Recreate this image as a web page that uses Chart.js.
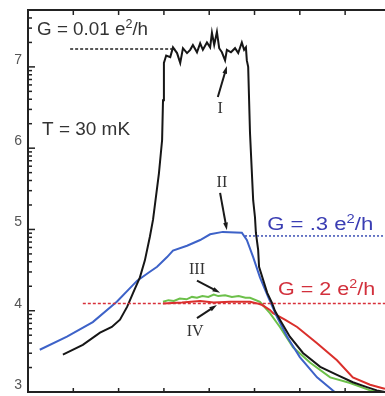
<!DOCTYPE html>
<html>
<head>
<meta charset="utf-8">
<script src="https://cdn.jsdelivr.net/npm/chart.js@4.4.1/dist/chart.umd.min.js"></script>
<style>
  html, body { margin: 0; padding: 0; background: #fff; overflow: hidden; }
</style>
</head>
<body>
<canvas id="gateSweep" width="385" height="396"></canvas>
<script>
// y axis: log of resistance, labelled by exponent
const yTicks = [3, 4, 5, 6, 7];
const xTicks = [1, 2, 3, 4, 5, 6, 7];
const minorDigits = [2, 3, 4, 5, 6, 7, 8, 9];

// curve I (black) - G = 0.01 e2/h
const blackX = [0.77, 1.21, 1.59, 1.85, 2.03, 2.19, 2.32, 2.47, 2.58, 2.69, 2.76, 2.89, 2.96, 2.98, 3.00, 3.05,
  3.14, 3.20, 3.29, 3.36, 3.42, 3.51, 3.58, 3.64, 3.73, 3.80, 3.86, 3.95, 4.02, 4.06, 4.11, 4.17, 4.22,
  4.28, 4.35, 4.39, 4.48, 4.57, 4.64, 4.72, 4.77, 4.81, 4.83, 4.86, 4.90, 4.97, 5.01, 5.03, 5.08, 5.10,
  5.28, 5.39, 5.45, 5.56, 5.78, 6.07, 6.45, 6.82, 7.17, 7.48, 7.70, 7.88];
const blackY = [3.46, 3.58, 3.73, 3.80, 3.89, 4.05, 4.22, 4.41, 4.62, 4.91, 5.12, 5.69, 6.10, 6.59, 7.05, 7.14,
  7.12, 7.24, 7.17, 7.05, 7.23, 7.17, 7.21, 7.27, 7.18, 7.29, 7.21, 7.30, 7.24, 7.42, 7.27, 7.43, 7.23,
  7.18, 7.08, 7.21, 7.18, 7.23, 7.17, 7.30, 7.21, 7.24, 7.08, 7.00, 6.19, 5.36, 5.15, 4.96, 4.75, 4.54,
  4.22, 4.09, 4.00, 3.89, 3.68, 3.48, 3.31, 3.21, 3.12, 3.06, 3.02, 3.00];

// curve II (blue) - G = .3 e2/h
const blueX = [0.26, 0.86, 1.43, 1.96, 2.41, 2.69, 2.85, 3.07, 3.20, 3.51, 3.80, 4.02, 4.30, 4.72, 4.83,
  4.97, 5.12, 5.30, 5.50, 5.72, 6.00, 6.38, 6.77];
const blueY = [3.52, 3.68, 3.86, 4.11, 4.37, 4.48, 4.54, 4.66, 4.74, 4.80, 4.87, 4.94, 4.97, 4.96, 4.87,
  4.66, 4.41, 4.17, 3.92, 3.68, 3.43, 3.18, 3.00];

// curve IV (red) - G = 2 e2/h
const redX = [2.98, 3.40, 3.80, 4.10, 4.46, 4.90, 5.06, 5.17, 5.34, 5.41, 5.67, 5.94, 6.38, 6.82, 7.17,
  7.55, 7.81, 7.88];
const redY = [4.09, 4.10, 4.12, 4.10, 4.11, 4.11, 4.09, 4.07, 4.01, 3.97, 3.89, 3.80, 3.60, 3.39, 3.18,
  3.09, 3.05, 3.04];

// curve III (green)
const greenX = [2.98, 3.10, 3.22, 3.35, 3.50, 3.62, 3.73, 3.85, 3.98, 4.10, 4.20, 4.35, 4.50, 4.65, 4.80,
  4.90, 5.12, 5.34, 5.56, 5.85, 6.23, 6.67, 7.11, 7.55, 7.81];
const greenY = [4.11, 4.13, 4.12, 4.15, 4.14, 4.17, 4.16, 4.18, 4.17, 4.20, 4.18, 4.19, 4.17, 4.18, 4.16,
  4.16, 4.11, 3.97, 3.80, 3.55, 3.36, 3.18, 3.11, 3.02, 3.00];

// dotted reference levels
const levelBlackX = [0.93, 3.25];
const levelBlackY = [7.22, 7.22];
const levelBlueX = [4.79, 7.88];
const levelBlueY = [4.92, 4.92];
const levelRedX = [1.21, 7.88];
const levelRedY = [4.09, 4.09];

function pts(xs, ys) {
  return xs.map((x, i) => ({ x: x, y: ys[i] }));
}

const labelFont = '"Liberation Sans", Arial, sans-serif';
const romanFont = '"Liberation Serif", "Times New Roman", serif';

// text pieces placed in data coordinates (left, baseline)
const textLabels = [
  { x: 0.20, y: 7.39, color: '#333', size: 18, width: 111, parts: [{ t: 'G = 0.01 e' }, { t: '2', sup: true }, { t: '/h' }] },
  { x: 0.31, y: 6.16, color: '#333', size: 19, width: 88, parts: [{ t: 'T = 30 mK' }] },
  { x: 5.28, y: 4.99, color: '#3a3db3', size: 18, width: 106, parts: [{ t: 'G = .3 e' }, { t: '2', sup: true }, { t: '/h' }] },
  { x: 5.52, y: 4.19, color: '#d2303c', size: 18, width: 97, parts: [{ t: 'G = 2 e' }, { t: '2', sup: true }, { t: '/h' }] }
];

const romanLabels = [
  { t: 'I', x: 4.24, y: 6.49 },
  { t: 'II', x: 4.28, y: 5.58 },
  { t: 'III', x: 3.73, y: 4.50 },
  { t: 'IV', x: 3.69, y: 3.74 }
];

const arrows = [
  { x0: 4.19, y0: 6.63, x1: 4.39, y1: 7.01 },
  { x0: 4.24, y0: 5.45, x1: 4.39, y1: 4.99 },
  { x0: 3.73, y0: 4.37, x1: 4.24, y1: 4.22 },
  { x0: 3.73, y0: 3.91, x1: 4.17, y1: 4.07 }
];

const annotate = {
  id: 'annotate',
  afterDatasetsDraw(chart) {
    const { ctx, scales: { x, y } } = chart;
    ctx.save();
    // labels with superscripts
    textLabels.forEach(lab => {
      let natural = 0;
      lab.parts.forEach(p => {
        ctx.font = (p.sup ? Math.round(lab.size * 0.68) : lab.size) + 'px ' + labelFont;
        natural += ctx.measureText(p.t).width;
      });
      ctx.save();
      ctx.translate(x.getPixelForValue(lab.x), y.getPixelForValue(lab.y));
      ctx.scale(lab.width / natural, 1);
      ctx.fillStyle = lab.color;
      ctx.textAlign = 'left';
      ctx.textBaseline = 'alphabetic';
      let cx = 0;
      lab.parts.forEach(p => {
        ctx.font = (p.sup ? Math.round(lab.size * 0.68) : lab.size) + 'px ' + labelFont;
        ctx.fillText(p.t, cx, p.sup ? -lab.size * 0.42 : 0);
        cx += ctx.measureText(p.t).width;
      });
      ctx.restore();
    });
    // roman numerals
    ctx.fillStyle = '#333';
    ctx.font = '16px ' + romanFont;
    ctx.textAlign = 'center';
    ctx.textBaseline = 'middle';
    romanLabels.forEach(r => {
      ctx.fillText(r.t, x.getPixelForValue(r.x), y.getPixelForValue(r.y));
    });
    // arrows
    ctx.strokeStyle = '#1a1a1a';
    ctx.fillStyle = '#1a1a1a';
    ctx.lineWidth = 2;
    arrows.forEach(a => {
      const px0 = x.getPixelForValue(a.x0), py0 = y.getPixelForValue(a.y0);
      const px1 = x.getPixelForValue(a.x1), py1 = y.getPixelForValue(a.y1);
      const ang = Math.atan2(py1 - py0, px1 - px0);
      const head = 8;
      ctx.beginPath();
      ctx.moveTo(px0, py0);
      ctx.lineTo(px1 - Math.cos(ang) * head * 0.7, py1 - Math.sin(ang) * head * 0.7);
      ctx.stroke();
      ctx.beginPath();
      ctx.moveTo(px1, py1);
      ctx.lineTo(px1 - head * Math.cos(ang - 0.3), py1 - head * Math.sin(ang - 0.3));
      ctx.lineTo(px1 - head * Math.cos(ang + 0.3), py1 - head * Math.sin(ang + 0.3));
      ctx.closePath();
      ctx.fill();
    });
    ctx.restore();
  },
  afterDraw(chart) {
    const { ctx, chartArea: a, scales: { x, y } } = chart;
    ctx.save();
    ctx.strokeStyle = '#222';
    ctx.lineWidth = 1.5;
    // inward ticks on the left axis (log minor ticks)
    yTicks.forEach(v => {
      const py = y.getPixelForValue(v);
      ctx.beginPath(); ctx.moveTo(a.left, py); ctx.lineTo(a.left + 7, py); ctx.stroke();
      minorDigits.forEach(d => {
        const mv = v + Math.log10(d);
        if (mv > y.max) return;
        const my = y.getPixelForValue(mv);
        ctx.beginPath(); ctx.moveTo(a.left, my); ctx.lineTo(a.left + 4, my); ctx.stroke();
      });
    });
    // inward ticks on top and bottom
    xTicks.forEach(v => {
      const px = x.getPixelForValue(v);
      ctx.beginPath(); ctx.moveTo(px, a.top); ctx.lineTo(px, a.top + 5); ctx.stroke();
      ctx.beginPath(); ctx.moveTo(px, a.bottom); ctx.lineTo(px, a.bottom - 4); ctx.stroke();
    });
    // frame
    ctx.lineWidth = 2;
    ctx.beginPath();
    ctx.moveTo(a.right + 2, a.top);
    ctx.lineTo(a.left, a.top);
    ctx.lineTo(a.left, a.bottom);
    ctx.lineTo(a.right + 2, a.bottom);
    ctx.stroke();
    ctx.restore();
  }
};

const el = document.getElementById('gateSweep');
new Chart(el, {
  type: 'line',
  data: {
    datasets: [
      { data: pts(levelBlackX, levelBlackY), borderColor: '#222', borderWidth: 1.5, borderDash: [3, 2] },
      { data: pts(levelBlueX, levelBlueY), borderColor: '#3b4fb4', borderWidth: 1.5, borderDash: [2, 2] },
      { data: pts(levelRedX, levelRedY), borderColor: '#d8303a', borderWidth: 1.5, borderDash: [3, 2] },
      { data: pts(blackX, blackY), borderColor: '#161616', borderWidth: 2 },
      { data: pts(blueX, blueY), borderColor: '#3d62c8', borderWidth: 2 },
      { data: pts(redX, redY), borderColor: '#da2f2b', borderWidth: 2 },
      { data: pts(greenX, greenY), borderColor: '#6cc04a', borderWidth: 2 }
    ]
  },
  options: {
    responsive: false,
    animation: false,
    devicePixelRatio: 1,
    layout: { padding: { top: 10, right: 0, bottom: 4, left: 0 } },
    elements: { point: { radius: 0 }, line: { tension: 0 } },
    plugins: {
      legend: { display: false },
      tooltip: { enabled: false }
    },
    scales: {
      x: { type: 'linear', min: 0, max: 7.88, display: false },
      y: {
        type: 'linear',
        min: 3,
        max: 7.7,
        afterBuildTicks: s => { s.ticks = yTicks.map(v => ({ value: v })); },
        afterFit: s => { s.width = 28; s.paddingTop = 0; s.paddingBottom = 0; },
        grid: { display: false, drawTicks: false },
        border: { display: false },
        ticks: {
          padding: 6,
          labelOffset: -7,
          color: '#555',
          font: { family: labelFont, size: 14 }
        }
      }
    }
  },
  plugins: [annotate]
});
</script>
</body>
</html>
